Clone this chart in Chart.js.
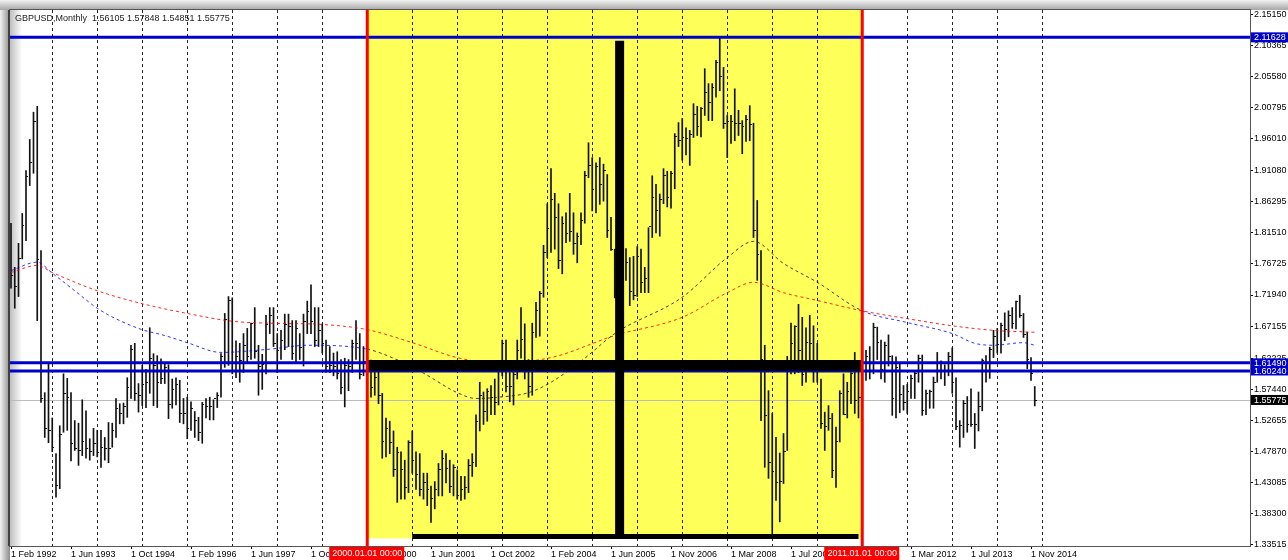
<!DOCTYPE html>
<html>
<head>
<meta charset="utf-8">
<script src="https://cdn.jsdelivr.net/npm/chart.js@4.4.1/dist/chart.umd.min.js"></script>
<style>
  html, body { margin: 0; padding: 0; background: #fff; }
  #wrap { width: 1288px; height: 560px; }
</style>
</head>
<body>
<div id="wrap"><canvas id="gbpChart" width="1288" height="560"></canvas></div>
<script>
// GBPUSD monthly bars, Feb 1992 .. Nov 2014 (one row per year)
let highs = [
  1.830, 1.762, 1.799, 1.845, 1.911, 1.959, 2.001, 2.010, 1.788, 1.569, 1.614,
  1.530, 1.475, 1.518, 1.598, 1.591, 1.569, 1.526, 1.522, 1.558, 1.541, 1.498, 1.514,
  1.511, 1.511, 1.500, 1.523, 1.522, 1.560, 1.552, 1.553, 1.592, 1.642, 1.645, 1.583,
  1.611, 1.605, 1.669, 1.629, 1.626, 1.621, 1.615, 1.612, 1.590, 1.592, 1.588, 1.560,
  1.562, 1.555, 1.540, 1.531, 1.554, 1.560, 1.562, 1.558, 1.569, 1.629, 1.691, 1.717,
  1.715, 1.649, 1.645, 1.660, 1.668, 1.676, 1.700, 1.642, 1.628, 1.688, 1.700, 1.700,
  1.660, 1.665, 1.690, 1.690, 1.680, 1.680, 1.660, 1.690, 1.710, 1.735, 1.700, 1.700,
  1.675, 1.650, 1.640, 1.630, 1.632, 1.620, 1.622, 1.620, 1.650, 1.680, 1.660, 1.640,
  1.660, 1.619, 1.605, 1.603, 1.568, 1.530, 1.525, 1.510, 1.485, 1.478, 1.465, 1.495,
  1.510, 1.478, 1.475, 1.445, 1.445, 1.425, 1.432, 1.460, 1.480, 1.475, 1.465, 1.458,
  1.450, 1.440, 1.440, 1.466, 1.475, 1.535, 1.585, 1.570, 1.575, 1.580, 1.590, 1.615,
  1.650, 1.650, 1.600, 1.605, 1.650, 1.700, 1.675, 1.620, 1.676, 1.708, 1.725, 1.796,
  1.860, 1.914, 1.876, 1.860, 1.840, 1.846, 1.876, 1.846, 1.815, 1.846, 1.910, 1.954,
  1.931, 1.923, 1.931, 1.921, 1.905, 1.839, 1.790, 1.830, 1.840, 1.791, 1.777, 1.779,
  1.794, 1.790, 1.762, 1.823, 1.903, 1.890, 1.875, 1.914, 1.910, 1.910, 1.968, 1.985,
  1.991, 1.977, 1.973, 2.014, 2.010, 2.008, 2.068, 2.045, 2.045, 2.081, 2.116, 2.070,
  1.996, 1.996, 2.037, 2.004, 1.988, 1.996, 2.011, 1.984, 1.865, 1.788, 1.642, 1.572,
  1.537, 1.500, 1.476, 1.506, 1.625, 1.676, 1.672, 1.705, 1.685, 1.669, 1.688, 1.672,
  1.645, 1.590, 1.539, 1.549, 1.537, 1.516, 1.572, 1.598, 1.585, 1.600, 1.631, 1.603,
  1.603, 1.634, 1.640, 1.676, 1.670, 1.650, 1.647, 1.658, 1.626, 1.624, 1.613, 1.580,
  1.582, 1.596, 1.603, 1.627, 1.627, 1.573, 1.573, 1.593, 1.631, 1.618, 1.612, 1.631,
  1.638, 1.592, 1.526, 1.557, 1.563, 1.575, 1.537, 1.570, 1.621, 1.626, 1.639, 1.665,
  1.668, 1.676, 1.692, 1.695, 1.700, 1.710, 1.719, 1.691, 1.662, 1.623, 1.57848,
];

let lows = [
  1.730, 1.699, 1.717, 1.775, 1.803, 1.888, 1.907, 1.680, 1.554, 1.500, 1.492,
  1.478, 1.408, 1.421, 1.508, 1.511, 1.464, 1.480, 1.457, 1.472, 1.468, 1.465, 1.472,
  1.470, 1.454, 1.465, 1.461, 1.485, 1.500, 1.521, 1.521, 1.531, 1.560, 1.557, 1.539,
  1.549, 1.546, 1.568, 1.549, 1.546, 1.583, 1.583, 1.529, 1.545, 1.550, 1.523, 1.521,
  1.498, 1.511, 1.500, 1.495, 1.491, 1.530, 1.527, 1.527, 1.546, 1.562, 1.608, 1.611,
  1.598, 1.592, 1.585, 1.600, 1.614, 1.620, 1.622, 1.565, 1.574, 1.598, 1.660, 1.640,
  1.600, 1.620, 1.635, 1.640, 1.620, 1.615, 1.620, 1.610, 1.660, 1.660, 1.640, 1.640,
  1.630, 1.600, 1.600, 1.595, 1.590, 1.567, 1.547, 1.572, 1.600, 1.620, 1.590, 1.595,
  1.595, 1.562, 1.565, 1.552, 1.468, 1.470, 1.475, 1.440, 1.400, 1.405, 1.405, 1.415,
  1.445, 1.420, 1.410, 1.405, 1.395, 1.369, 1.390, 1.410, 1.410, 1.430, 1.415, 1.410,
  1.405, 1.403, 1.405, 1.415, 1.440, 1.455, 1.510, 1.520, 1.525, 1.535, 1.535, 1.550,
  1.595, 1.570, 1.555, 1.550, 1.590, 1.622, 1.590, 1.562, 1.565, 1.654, 1.656, 1.716,
  1.777, 1.785, 1.790, 1.760, 1.752, 1.800, 1.802, 1.782, 1.769, 1.797, 1.830, 1.900,
  1.849, 1.846, 1.859, 1.864, 1.808, 1.788, 1.715, 1.745, 1.755, 1.742, 1.703, 1.712,
  1.717, 1.723, 1.723, 1.723, 1.808, 1.815, 1.810, 1.860, 1.855, 1.853, 1.883, 1.948,
  1.927, 1.935, 1.919, 1.962, 1.965, 1.963, 1.996, 1.988, 1.988, 2.024, 2.034, 1.976,
  1.931, 1.953, 1.957, 1.965, 1.937, 1.956, 1.957, 1.808, 1.742, 1.526, 1.454, 1.437,
  1.352, 1.403, 1.370, 1.429, 1.480, 1.598, 1.598, 1.600, 1.580, 1.585, 1.608, 1.585,
  1.585, 1.514, 1.480, 1.511, 1.438, 1.423, 1.493, 1.535, 1.530, 1.552, 1.537, 1.530,
  1.543, 1.588, 1.590, 1.598, 1.620, 1.590, 1.585, 1.610, 1.534, 1.530, 1.538, 1.542,
  1.537, 1.560, 1.560, 1.585, 1.534, 1.535, 1.545, 1.545, 1.585, 1.590, 1.580, 1.595,
  1.568, 1.512, 1.485, 1.500, 1.508, 1.517, 1.483, 1.510, 1.541, 1.585, 1.591, 1.623,
  1.630, 1.630, 1.649, 1.655, 1.668, 1.667, 1.685, 1.654, 1.606, 1.588, 1.54851,
];

let closes = [
  1.750, 1.733, 1.777, 1.828, 1.903, 1.924, 1.988, 1.775, 1.560, 1.515, 1.511,
  1.485, 1.426, 1.505, 1.569, 1.562, 1.492, 1.483, 1.480, 1.495, 1.483, 1.479, 1.491,
  1.477, 1.485, 1.483, 1.483, 1.511, 1.545, 1.537, 1.548, 1.577, 1.637, 1.568, 1.566,
  1.583, 1.585, 1.623, 1.611, 1.586, 1.592, 1.609, 1.552, 1.575, 1.582, 1.537, 1.537,
  1.515, 1.546, 1.527, 1.508, 1.552, 1.548, 1.548, 1.560, 1.566, 1.626, 1.683, 1.711,
  1.603, 1.626, 1.620, 1.642, 1.626, 1.676, 1.633, 1.610, 1.613, 1.675, 1.688, 1.645,
  1.635, 1.650, 1.675, 1.672, 1.630, 1.668, 1.640, 1.680, 1.695, 1.680, 1.650, 1.665,
  1.645, 1.610, 1.612, 1.610, 1.600, 1.578, 1.612, 1.610, 1.646, 1.645, 1.598, 1.617,
  1.615, 1.578, 1.593, 1.565, 1.495, 1.515, 1.493, 1.452, 1.478, 1.452, 1.424, 1.493,
  1.466, 1.443, 1.420, 1.431, 1.420, 1.407, 1.420, 1.452, 1.468, 1.453, 1.425, 1.455,
  1.412, 1.421, 1.424, 1.458, 1.462, 1.525, 1.565, 1.541, 1.571, 1.563, 1.555, 1.610,
  1.645, 1.580, 1.580, 1.597, 1.634, 1.652, 1.610, 1.580, 1.662, 1.697, 1.722, 1.785,
  1.823, 1.868, 1.840, 1.773, 1.830, 1.815, 1.818, 1.800, 1.810, 1.835, 1.905, 1.920,
  1.882, 1.918, 1.890, 1.912, 1.820, 1.791, 1.760, 1.800, 1.765, 1.770, 1.725, 1.720,
  1.780, 1.740, 1.745, 1.825, 1.870, 1.850, 1.868, 1.904, 1.870, 1.908, 1.965, 1.958,
  1.963, 1.962, 1.968, 1.998, 1.979, 2.007, 2.032, 2.017, 2.040, 2.078, 2.056, 1.985,
  1.988, 1.987, 1.985, 1.985, 1.980, 1.991, 1.983, 1.820, 1.782, 1.621, 1.535, 1.462,
  1.449, 1.432, 1.433, 1.479, 1.615, 1.646, 1.671, 1.634, 1.598, 1.647, 1.645, 1.617,
  1.615, 1.523, 1.518, 1.530, 1.450, 1.495, 1.569, 1.536, 1.572, 1.600, 1.557, 1.562,
  1.602, 1.625, 1.603, 1.670, 1.647, 1.606, 1.643, 1.625, 1.560, 1.609, 1.567, 1.554,
  1.572, 1.591, 1.600, 1.622, 1.543, 1.568, 1.571, 1.586, 1.616, 1.614, 1.602, 1.625,
  1.585, 1.517, 1.519, 1.553, 1.520, 1.520, 1.520, 1.549, 1.619, 1.603, 1.636, 1.656,
  1.644, 1.673, 1.667, 1.688, 1.676, 1.710, 1.688, 1.659, 1.621, 1.599, 1.55775,
];

// moving averages (bar index, price)
let maSlowIdx = [0, 7, 11, 23, 35, 47, 59, 69, 83, 95, 107, 119, 129, 144, 161, 179, 191, 198, 206, 215, 227, 239, 251, 262, 273];
let maSlowVal = [1.754, 1.765, 1.754, 1.726, 1.706, 1.691, 1.679, 1.676, 1.674, 1.666, 1.646, 1.623, 1.615, 1.623, 1.657, 1.685, 1.723, 1.739, 1.723, 1.711, 1.695, 1.683, 1.672, 1.665, 1.662];
let maFastIdx = [0, 7, 11, 17, 23, 29, 35, 41, 47, 56, 69, 79, 95, 102, 110, 119, 124, 130, 138, 144, 153, 161, 179, 191, 198, 206, 215, 227, 239, 251, 257, 262, 270, 273];
let maFastVal = [1.757, 1.770, 1.753, 1.726, 1.699, 1.680, 1.666, 1.657, 1.646, 1.631, 1.636, 1.642, 1.636, 1.622, 1.599, 1.569, 1.560, 1.562, 1.569, 1.585, 1.622, 1.660, 1.716, 1.777, 1.802, 1.768, 1.739, 1.695, 1.677, 1.660, 1.645, 1.642, 1.646, 1.642];

let yTicks = [2.15150, 2.10365, 2.05580, 2.00795, 1.96010, 1.91080, 1.86295, 1.81510, 1.76725, 1.71940, 1.67155, 1.62225, 1.57440, 1.52655, 1.47870, 1.43085, 1.38300, 1.33515];
let xTickLabels = [
  '1 Feb 1992', '1 Jun 1993', '1 Oct 1994', '1 Feb 1996', '1 Jun 1997', '1 Oct 1998',
  '1 Feb 2000', '1 Jun 2001', '1 Oct 2002', '1 Feb 2004', '1 Jun 2005', '1 Nov 2006',
  '1 Mar 2008', '1 Jul 2009', '1 Nov 2010', '1 Mar 2012', '1 Jul 2013', '1 Nov 2014',
];

let headerQuote = [1.56105, 1.57848, 1.54851, 1.55775];
let blueLevels = [2.11628, 1.61490, 1.60240];
let lastPrice = 1.55775;
let zoneBounds = [95, 227];
let zoneLabels = ['2000.01.01 00:00', '2011.01.01 00:00'];

const FONT = '"Liberation Sans", Arial, sans-serif';
const LABEL_STEP = 16;

let mtOverlay = {
  id: 'mtOverlay',
  beforeDraw(chart) {
    let { ctx, width, height, chartArea: a } = chart;
    ctx.save();
    ctx.fillStyle = '#fff';
    ctx.fillRect(0, 0, width, height);
    let g = ctx.createLinearGradient(0, 0, 0, a.top);
    g.addColorStop(0, '#f2f2f2');
    g.addColorStop(1, '#a6a6a6');
    ctx.fillStyle = g;
    ctx.fillRect(0, 0, width, a.top);
    g = ctx.createLinearGradient(0, 0, a.left, 0);
    g.addColorStop(0, '#f2f2f2');
    g.addColorStop(1, '#8c8c8c');
    ctx.fillStyle = g;
    ctx.fillRect(0, a.top, a.left, height - a.top);
    ctx.restore();
  },
  beforeDatasetsDraw(chart) {
    let { ctx, chartArea: a, scales: { x, y } } = chart;
    ctx.save();
    ctx.beginPath();
    ctx.rect(a.left, a.top, a.width, a.height);
    ctx.clip();

    // highlighted period
    let zx0 = x.getPixelForValue(zoneBounds[0]);
    let zx1 = x.getPixelForValue(zoneBounds[1]);
    ctx.fillStyle = '#ffff5a';
    ctx.fillRect(zx0, a.top, zx1 - zx0, y.getPixelForValue(1.3445) - a.top);

    // inner shadow on the left edge
    let g = ctx.createLinearGradient(a.left, 0, a.left + 12, 0);
    g.addColorStop(0, 'rgba(0,0,0,0.25)');
    g.addColorStop(1, 'rgba(0,0,0,0)');
    ctx.fillStyle = g;
    ctx.fillRect(a.left, a.top, 12, a.height);

    // yearly dashed grid
    ctx.strokeStyle = 'rgba(0,0,0,0.85)';
    ctx.lineWidth = 1;
    ctx.setLineDash([3, 3]);
    for (let i = 11; i <= closes.length + 1; i += 12) {
      let px = Math.round(x.getPixelForValue(i)) + 0.5;
      ctx.beginPath();
      ctx.moveTo(px, a.top);
      ctx.lineTo(px, a.bottom);
      ctx.stroke();
    }
    ctx.setLineDash([]);

    // last price line
    let py = Math.round(y.getPixelForValue(lastPrice)) + 0.5;
    ctx.strokeStyle = '#bcbcbc';
    ctx.beginPath();
    ctx.moveTo(a.left, py);
    ctx.lineTo(a.right, py);
    ctx.stroke();
    ctx.restore();
  },
  afterDatasetsDraw(chart) {
    let { ctx, chartArea: a, scales: { x, y } } = chart;
    let seg = (x0, y0, x1, y1) => {
      ctx.beginPath();
      ctx.moveTo(x0, y0);
      ctx.lineTo(x1, y1);
      ctx.stroke();
    };
    ctx.save();
    ctx.beginPath();
    ctx.rect(a.left, a.top, a.width, a.height);
    ctx.clip();

    // close ticks
    ctx.fillStyle = '#111';
    closes.forEach((c, i) => {
      ctx.fillRect(Math.round(x.getPixelForValue(i)), Math.round(y.getPixelForValue(c)), 2, 1);
    });

    // blue horizontal levels
    ctx.strokeStyle = '#0000c8';
    ctx.lineWidth = 3;
    blueLevels.forEach((v) => {
      let py = y.getPixelForValue(v);
      seg(a.left, py, a.right, py);
    });

    // hand-drawn black marks
    ctx.strokeStyle = '#000';
    ctx.lineWidth = 11;
    seg(x.getPixelForValue(zoneBounds[0]), y.getPixelForValue(1.611), x.getPixelForValue(zoneBounds[1]), y.getPixelForValue(1.611));
    ctx.lineWidth = 9;
    seg(x.getPixelForValue(162.3), y.getPixelForValue(2.111), x.getPixelForValue(162.3), y.getPixelForValue(1.351));
    ctx.lineWidth = 5;
    seg(x.getPixelForValue(107), y.getPixelForValue(1.3475), x.getPixelForValue(226), y.getPixelForValue(1.3475));

    // red period boundaries
    ctx.strokeStyle = '#ff0000';
    ctx.lineWidth = 3;
    zoneBounds.forEach((b) => {
      let px = x.getPixelForValue(b);
      seg(px, a.top, px, a.bottom);
    });
    ctx.restore();

    // frame
    ctx.save();
    ctx.strokeStyle = '#555';
    ctx.lineWidth = 1;
    ctx.strokeRect(a.left - 0.5, a.top - 0.5, a.width + 1, a.height + 1);
    ctx.strokeStyle = '#404040';
    ctx.lineWidth = 2;
    seg(a.left - 1, a.top, a.left - 1, a.bottom);
    ctx.restore();
  },
  afterDraw(chart) {
    let { ctx, chartArea: a, scales: { x, y } } = chart;
    ctx.save();
    ctx.font = '9px ' + FONT;
    ctx.textBaseline = 'middle';

    // price boxes on the right axis
    ctx.textAlign = 'left';
    let priceBox = (values, bg, h) => {
      ctx.fillStyle = bg;
      values.forEach((v) => {
        let py = y.getPixelForValue(v);
        ctx.fillRect(a.right + 1, py - h / 2, 38, h);
      });
      ctx.fillStyle = '#fff';
      values.forEach((v) => {
        ctx.fillText(v.toFixed(5), a.right + 4, y.getPixelForValue(v) + 0.5);
      });
    };
    priceBox([blueLevels[0]], '#0000c8', 10);
    priceBox([blueLevels[1], blueLevels[2]], '#0000c8', 9);
    priceBox([lastPrice], '#000', 10);

    // date boxes under the red lines
    ctx.textAlign = 'center';
    zoneBounds.forEach((b, k) => {
      let px = x.getPixelForValue(b);
      ctx.fillStyle = '#ff0000';
      ctx.fillRect(px - 38, a.bottom + 1, 75, 13);
      ctx.fillStyle = '#fff';
      ctx.fillText(zoneLabels[k], px, a.bottom + 8);
    });

    // header
    ctx.textAlign = 'left';
    ctx.fillStyle = '#1a1a1a';
    ctx.fillText('GBPUSD,Monthly  ' + headerQuote.map((v) => v.toFixed(5)).join(' '), a.left + 5, a.top + 9);
    ctx.restore();
  },
};

let ctx = document.getElementById('gbpChart').getContext('2d');

new Chart(ctx, {
  type: 'bar',
  data: {
    datasets: [
      {
        type: 'line',
        label: 'MA slow',
        data: maSlowIdx.map((i, k) => ({ x: i, y: maSlowVal[k] })),
        borderColor: 'rgba(255,0,0,0.85)',
        borderWidth: 1,
        borderDash: [3, 3],
        pointRadius: 0,
        cubicInterpolationMode: 'monotone',
        fill: false,
        order: 1,
      },
      {
        type: 'line',
        label: 'MA fast',
        data: maFastIdx.map((i, k) => ({ x: i, y: maFastVal[k] })),
        borderColor: 'rgba(0,0,255,0.8)',
        borderWidth: 1,
        borderDash: [3, 3],
        pointRadius: 0,
        cubicInterpolationMode: 'monotone',
        fill: false,
        segment: {
          borderColor: (c) =>
            c.p0.parsed.x >= zoneBounds[0] && c.p1.parsed.x <= zoneBounds[1]
              ? 'rgba(30,30,30,0.85)'
              : 'rgba(0,0,255,0.8)',
        },
        order: 2,
      },
      {
        label: 'GBPUSD',
        data: highs.map((h, i) => ({ x: i, y: [lows[i], h] })),
        backgroundColor: '#111',
        barThickness: 1,
        order: 3,
      },
    ],
  },
  options: {
    responsive: false,
    animation: false,
    events: [],
    layout: { padding: { left: 10, top: 10, right: 0, bottom: 0 } },
    plugins: {
      legend: { display: false },
      tooltip: { enabled: false },
    },
    scales: {
      x: {
        type: 'linear',
        position: 'bottom',
        offset: false,
        min: -0.267,
        max: 330.4,
        afterBuildTicks: (scale) => {
          scale.ticks = xTickLabels.map((_, k) => ({ value: k * LABEL_STEP }));
        },
        afterFit: (scale) => {
          scale.height = 14;
        },
        grid: { offset: false, drawOnChartArea: false, drawTicks: true, tickLength: 3, tickColor: '#000' },
        border: { display: false },
        ticks: {
          autoSkip: false,
          maxRotation: 0,
          align: 'start',
          padding: 0,
          color: '#000',
          font: { family: FONT, size: 9 },
          callback: (v) => xTickLabels[Math.round(v / LABEL_STEP)] || '',
        },
      },
      y: {
        type: 'linear',
        position: 'right',
        min: 1.3328,
        max: 2.1584,
        afterBuildTicks: (scale) => {
          scale.ticks = yTicks.map((v) => ({ value: v }));
        },
        afterFit: (scale) => {
          scale.width = 38;
        },
        grid: { drawOnChartArea: false, drawTicks: true, tickLength: 3, tickColor: '#000' },
        border: { display: false },
        ticks: {
          autoSkip: false,
          padding: 1,
          color: '#000',
          font: { family: FONT, size: 9 },
          callback: (v) => Number(v).toFixed(5),
        },
      },
    },
  },
  plugins: [mtOverlay],
});
</script>
</body>
</html>
